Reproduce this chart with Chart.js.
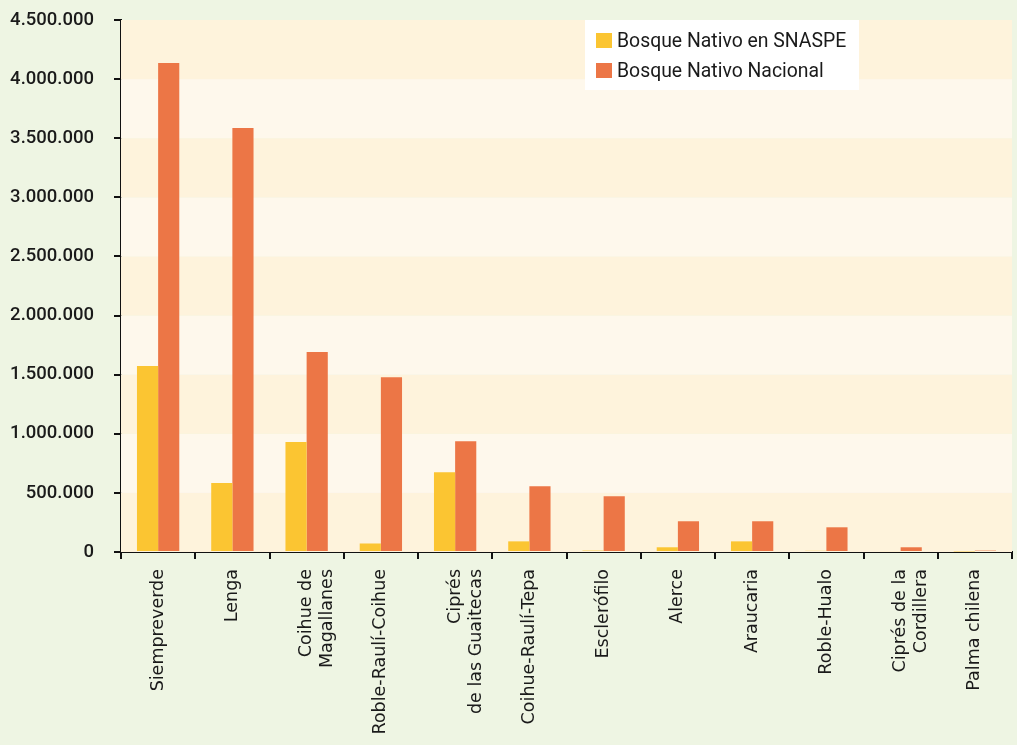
<!DOCTYPE html>
<html>
<head>
<meta charset="utf-8">
<script src="https://cdn.jsdelivr.net/npm/chart.js@4.4.1/dist/chart.umd.min.js"></script>
<style>
  html, body { margin: 0; padding: 0; background: #EEF5E3; }
  #wrap { position: relative; width: 1017px; height: 745px; }
</style>
</head>
<body>
<div id="wrap"><canvas id="c" width="1017" height="745"></canvas></div>
<script>
const categories = [
  'Siempreverde', 'Lenga', ['Coihue de', 'Magallanes'], 'Roble-Raulí-Coihue',
  ['Ciprés', 'de las Guaitecas'], 'Coihue-Raulí-Tepa', 'Esclerófilo', 'Alerce',
  'Araucaria', 'Roble-Hualo', ['Ciprés de la', 'Cordillera'], 'Palma chilena'
];
const seriesNames = ['Bosque Nativo en SNASPE', 'Bosque Nativo Nacional'];
const snaspe =   [1573000, 584000, 930000, 72000, 674000, 90000, 12000, 40000, 90000, 10000, 8000, 5000];
const nacional = [4136000, 3586000, 1692000, 1478000, 936000, 556000, 471000, 260000, 260000, 209000, 40000, 12000];
const yTicks = [0, 500000, 1000000, 1500000, 2000000, 2500000, 3000000, 3500000, 4000000, 4500000];

const fmt = v => String(v).replace(/\B(?=(\d{3})+(?!\d))/g, '.');

const bandPlugin = {
  id: 'bands',
  beforeDatasetsDraw(chart) {
    const {ctx, chartArea: a, scales: {y}} = chart;
    ctx.save();
    for (let i = 0; i < yTicks.length - 1; i++) {
      const y0 = y.getPixelForValue(yTicks[i]);
      const y1 = y.getPixelForValue(yTicks[i + 1]);
      ctx.fillStyle = i % 2 === 0 ? '#FEF3DC' : '#FEF8EC';
      ctx.fillRect(a.left, y1, a.right - a.left, y0 - y1);
    }
    ctx.restore();
  }
};

const legendPlugin = {
  id: 'boxLegend',
  afterDatasetsDraw(chart) {
    const {ctx, chartArea: a} = chart;
    const bx = a.left + 464, by = a.top, bw = 274, bh = 70;
    ctx.save();
    ctx.fillStyle = '#FFFFFF';
    ctx.fillRect(bx, by, bw, bh);
    ctx.font = '19.4px Roboto';
    ctx.textBaseline = 'middle';
    chart.data.datasets.forEach((ds, i) => {
      const cy = by + 21 + i * 30;
      ctx.fillStyle = ds.backgroundColor;
      ctx.fillRect(bx + 11, cy - 8, 16, 15);
      ctx.fillStyle = '#1a1a1a';
      ctx.fillText(ds.label, bx + 32, cy + 1);
    });
    ctx.restore();
  }
};

new Chart(document.getElementById('c'), {
  type: 'bar',
  data: {
    labels: categories,
    datasets: [
      { label: seriesNames[0], data: snaspe, backgroundColor: '#FBC532' },
      { label: seriesNames[1], data: nacional, backgroundColor: '#EC7646' }
    ]
  },
  options: {
    responsive: false,
    animation: false,
    devicePixelRatio: 1,
    layout: { padding: { left: 0, right: 5, top: 0, bottom: 0 } },
    plugins: { legend: { display: false }, tooltip: { enabled: false } },
    datasets: { bar: { categoryPercentage: 0.57, barPercentage: 1.0 } },
    scales: {
      x: {
        grid: { display: true, drawOnChartArea: false, offset: true, tickLength: 7, color: '#111', lineWidth: 2 },
        border: { display: true, color: '#111', width: 2 },
        ticks: { minRotation: 90, maxRotation: 90, autoSkip: false, padding: 10,
                 color: '#1a1a1a', font: { family: 'DejaVu Sans', size: 17.5 } },
        afterFit(s) { s.height = 193; }
      },
      y: {
        min: 0, max: 4500000,
        afterBuildTicks(s) { s.ticks = yTicks.map(v => ({ value: v })); },
        grid: { display: true, drawOnChartArea: false, tickLength: 7, color: '#111', lineWidth: 2 },
        border: { display: true, color: '#111', width: 2 },
        ticks: { padding: 20, color: '#1a1a1a', font: { family: 'Roboto', size: 18.5, weight: '500' },
                 callback: v => fmt(v) },
        afterFit(s) { s.width = 121; s.paddingTop = 20; s.paddingBottom = 0; }
      }
    }
  },
  plugins: [bandPlugin, legendPlugin]
});
</script>
</body>
</html>
